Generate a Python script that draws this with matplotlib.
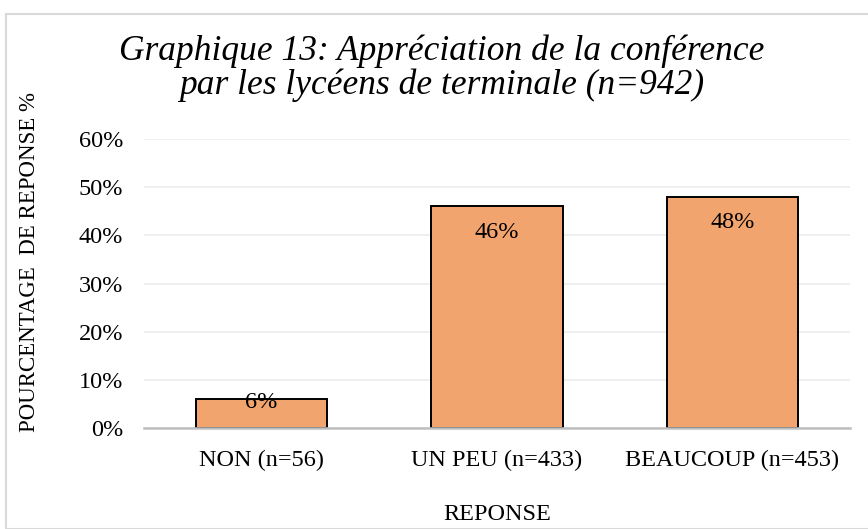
import matplotlib.pyplot as plt
import numpy as np

categories = ['NON (n=56)', 'UN PEU (n=433)', 'BEAUCOUP (n=453)']
percents = [6, 46, 48]
yticks = [0, 10, 20, 30, 40, 50, 60]

plt.rcParams['font.family'] = ['Liberation Serif', 'DejaVu Serif']

W, H = 868, 529
fig = plt.figure(figsize=(W / 100, H / 100), dpi=100)
# cadre gris autour du graphique
fig.patches.append(plt.Rectangle((6 / W, 0.0), 1.0, 1 - 14 / H, transform=fig.transFigure,
                                 fill=False, edgecolor='#d9d9d9', linewidth=1.5))
ax = fig.add_axes([144 / W, 1 - 428 / H, (850 - 144) / W, (428 - 139) / H])

x = np.arange(len(categories))
bars = ax.bar(x, percents, width=0.557, color='#f2a46f', edgecolor='black', linewidth=1.4, zorder=3)

ax.set_xlim(-0.5, 2.5)
ax.set_ylim(0, 60)

# étiquettes "inside end" comme dans Excel (bloquées en bas pour les petites barres)
px_per_unit = (428 - 139) / 60
for b, v in zip(bars, percents):
    yc = max(v - 26 / px_per_unit, 25 / px_per_unit)
    ax.text(b.get_x() + b.get_width() / 2, yc, f'{v}%', ha='center', va='center',
            fontsize=17.5, zorder=4)

ax.set_yticks(yticks)
ax.set_yticklabels([f'{t}%' for t in yticks], fontsize=17.5)
ax.set_xticks(x)
ax.set_xticklabels(categories, fontsize=17.5)
ax.tick_params(length=0)
ax.tick_params(axis='x', pad=16)
ax.tick_params(axis='y', pad=15)
ax.grid(axis='y', color='#ececec', linewidth=1.2, zorder=0)
for s in ['top', 'right', 'left']:
    ax.spines[s].set_visible(False)
ax.spines['bottom'].set_color('#bfbfbf')
ax.spines['bottom'].set_linewidth(1.8)
ax.spines['bottom'].set_zorder(5)

fig.text(442 / W, 1 - 68 / H, 'Graphique 13: Appréciation de la conférence\npar les lycéens de terminale (n=942)',
         ha='center', va='center', fontsize=25.5, style='italic', linespacing=1.0)
fig.text(30 / W, 1 - 262 / H, 'POURCENTAGE  DE REPONSE %', rotation=90, ha='center', va='center', fontsize=16.5)
fig.text(497 / W, 1 - 515 / H, 'REPONSE', ha='center', va='center', fontsize=17.5)

fig.savefig('out.png', dpi=100)
